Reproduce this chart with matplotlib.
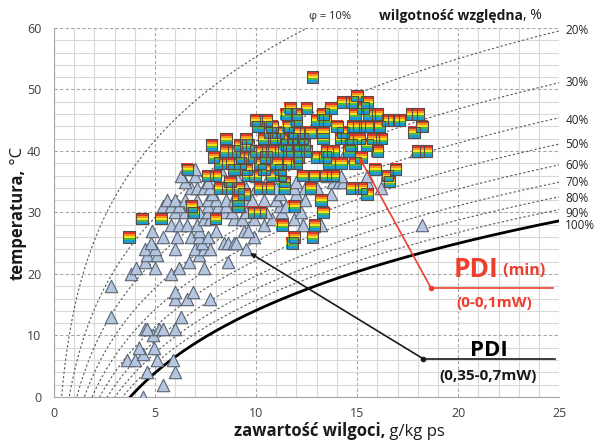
import numpy as np
import matplotlib
matplotlib.use('Agg')
import matplotlib.pyplot as plt
from matplotlib.path import Path

plt.rcParams['font.family'] = ['Open Sans', 'DejaVu Sans']

# relative humidity levels of the psychrometric lines
rh_levels = [10, 20, 30, 40, 50, 60, 70, 80, 90, 100]
# temperature at which each label sits on the right-hand side
rh_label_t = [None, 59.5, 51.1, 45.0, 41.0, 37.6, 34.8, 32.2, 29.9, 27.8]

# measurements with PDI (min) 0-0.1 mW : (moisture g/kg, temperature C)
sq_x = [12.8,
        15.0,
        14.3, 14.75, 15.5,
        11.7, 12.5, 13.7, 15.3,
        11.5, 12.0, 13.3, 14.9, 15.6, 16.0, 17.7, 18.0,
        10.0, 10.5, 12.0, 13.0, 13.4, 16.5, 16.8, 17.1,
        10.1, 10.8, 11.6, 14.0, 14.8, 15.1, 15.5, 16.1, 18.2,
        10.7, 11.1, 11.9, 12.1, 12.7, 13.3, 14.3, 17.8,
        8.5, 9.5, 10.4, 10.9, 11.3, 11.8, 12.3, 13.3, 14.2, 14.5, 15.1, 15.8, 16.2,
        7.8, 9.2, 9.6, 11.5, 12.1, 12.4, 14.7, 15.5,
        8.5, 8.9, 10.0, 10.3, 10.8, 11.2, 11.6, 12.1, 12.5, 13.5, 13.8, 14.6, 16.0, 18.0, 18.4,
        7.9, 9.3, 9.7, 10.5, 12.1, 13.0, 13.4, 15.2,
        8.2, 8.6, 9.2, 10.2, 11.0, 11.6, 12.0, 13.6, 14.2, 14.9,
        6.6, 8.9, 9.5, 10.4, 11.2, 15.9, 16.9,
        7.6, 8.0, 9.6, 9.95, 10.8, 11.2, 12.3, 12.9, 13.4, 13.8, 16.5,
        8.7, 11.4, 16.6,
        8.2, 8.6, 9.1, 10.2, 10.6, 11.4, 12.7, 14.75, 15.2,
        9.4, 15.5,
        9.1, 13.2,
        6.8, 9.1, 11.9,
        6.9, 9.9, 10.2, 13.3,
        4.35, 5.3, 8.0,
        11.3, 12.9,
        3.7, 11.9, 12.8,
        11.8]
sq_t = [52,
        49,
        48, 48, 48,
        47, 47, 47, 47,
        46, 46, 46, 46, 46, 46, 46, 46,
        45, 45, 45, 45, 45, 45, 45, 45,
        44, 44, 44, 44, 44, 44, 44, 44, 44,
        43, 43, 43, 43, 43, 43, 43, 43,
        42, 42, 42, 42, 42, 42, 42, 42, 42, 42, 42, 42, 42,
        41, 41, 41, 41, 41, 41, 41, 41,
        40, 40, 40, 40, 40, 40, 40, 40, 40, 40, 40, 40, 40, 40, 40,
        39, 39, 39, 39, 39, 39, 39, 39,
        38, 38, 38, 38, 38, 38, 38, 38, 38, 38,
        37, 37, 37, 37, 37, 37, 37,
        36, 36, 36, 36, 36, 36, 36, 36, 36, 36, 36,
        35, 35, 35,
        34, 34, 34, 34, 34, 34, 34, 34, 34,
        33, 33,
        32, 32,
        31, 31, 31,
        30, 30, 30, 30,
        29, 29, 29,
        28, 28,
        26, 26, 26,
        25]

# measurements with PDI 0.35-0.7 mW
tr_x = [4.4, 5.4, 4.6, 6.0, 3.6, 4.0, 5.1, 5.9, 4.4, 4.2, 4.95, 4.9,
        4.5, 4.6, 5.2, 5.4, 6.0, 2.8, 6.3, 6.0, 6.6, 7.7, 6.0, 6.9,
        2.8, 3.8, 5.8, 4.06, 5.0, 6.2, 7.4, 4.5, 6.7, 8.6,
        4.6, 5.1, 7.2, 4.5, 5.0, 6.0, 7.0, 7.4, 7.7, 9.5,
        4.8, 7.3, 8.4, 8.6, 8.9, 9.0,
        5.4, 6.1, 6.8, 7.2, 7.6, 9.9,
        4.85, 7.2, 8.0, 9.4, 9.6,
        5.8, 6.2, 6.6, 7.1, 10.4, 12.3, 13.2, 18.2,
        7.4, 7.7, 8.9, 9.3, 9.9, 10.8, 11.9,
        6.0, 6.5, 7.2, 7.6, 8.4, 8.8, 9.5, 10.5, 11.3, 12.2,
        5.4, 5.8, 6.2, 7.6, 8.1, 8.5, 9.2, 11.2, 11.5,
        5.6, 6.0, 6.5, 7.1, 7.6, 8.0, 8.5, 8.9, 9.4, 9.8, 10.4, 11.0, 12.4,
        7.8, 9.0, 11.2, 12.0, 13.7,
        6.8, 7.1, 7.4, 7.7, 9.5, 10.0, 11.0, 11.9, 12.4, 13.0, 16.2,
        6.5, 7.6, 8.1, 8.5, 8.7, 10.5, 11.5, 12.0, 13.8, 14.1, 14.3, 15.5,
        6.3, 7.0, 9.0, 10.0, 12.7, 13.5, 14.2, 15.5,
        7.0, 8.2, 9.3,
        14.3, 17.9, 12.8]
tr_t = [0, 2, 4, 4, 6, 6, 6, 6, 7, 8, 8, 10,
        11, 11, 11, 11, 11, 13, 13, 16, 16, 16, 17, 17,
        18, 20, 20, 21, 21, 21, 21, 22, 22, 22,
        23, 23, 23, 24, 24, 24, 24, 24, 24, 24,
        25, 25, 25, 25, 25, 25,
        26, 26, 26, 26, 26, 26,
        27, 27, 27, 27, 27,
        28, 28, 28, 28, 28, 28, 28, 28,
        29, 29, 29, 29, 29, 29, 29,
        30, 30, 30, 30, 30, 30, 30, 30, 30, 30,
        31, 31, 31, 31, 31, 31, 31, 31, 31,
        32, 32, 32, 32, 32, 32, 32, 32, 32, 32, 32, 32, 32,
        33, 33, 33, 33, 33,
        34, 34, 34, 34, 34, 34, 34, 34, 34, 34, 34,
        35, 35, 35, 35, 35, 35, 35, 35, 35, 35, 35, 35,
        36, 36, 36, 36, 36, 36, 36, 36,
        37, 37, 37,
        39, 40, 44]

# saturation pressure (Magnus) and moisture content at normal pressure
t = np.linspace(-2, 62, 300)
ps = 0.61094 * np.exp(17.625 * t / (t + 243.04))

fig = plt.figure(figsize=(6, 4.43), dpi=100)
ax = fig.add_axes([0.09, 0.104, 0.842, 0.833])
ax.set_xlim(0, 25)
ax.set_ylim(0, 60)

ax.set_xticks(np.arange(0, 26, 5))
ax.set_yticks(np.arange(0, 61, 10))
ax.set_xticks(np.arange(0, 26, 1), minor=True)
ax.set_yticks(np.arange(0, 61, 2), minor=True)
ax.grid(which='minor', color='#d9d9d9', lw=0.8, ls='-')
ax.grid(which='major', color='#a6a6a6', lw=0.8, ls=(0, (3, 2)))
ax.set_axisbelow(True)
ax.tick_params(which='both', length=0, labelsize=9, labelcolor='#404040')
ax.tick_params(axis='y', pad=9)
ax.tick_params(axis='x', pad=7)
for s in ['top', 'right']:
    ax.spines[s].set_visible(False)
for s in ['left', 'bottom']:
    ax.spines[s].set_color('#a6a6a6')

for rh, lt in zip(rh_levels, rh_label_t):
    phi = rh / 100.0
    x = 622 * phi * ps / (101.325 - phi * ps)
    if rh == 100:
        ax.plot(x, t, color='black', lw=2, zorder=2)
    else:
        ax.plot(x, t, color='#555555', lw=0.8, ls=(0, (2, 2)), zorder=2)
    if lt is not None:
        ax.text(25.3, lt, '%d%%' % rh, fontsize=8.5, color='#262626',
                va='center', ha='left', clip_on=False)

ax.text(12.6, 61.8, 'φ = 10%', fontsize=8, color='#262626', va='center', ha='left')
t1 = ax.text(16.1, 61.9, 'wilgotność względna', fontsize=10, fontweight='bold',
             color='#1a1a1a', va='center', ha='left')
ax.annotate(', %', xy=(1, 0), xycoords=t1, fontsize=10, color='#1a1a1a',
            va='bottom', ha='left')

# triangles
ax.scatter(tr_x, tr_t, marker='^', s=80, facecolor='#b4c6e0', edgecolor='#5b6372',
           linewidths=0.8, zorder=3)

# rainbow squares built from horizontal stripes
stripe_cols = ['#e8342c', '#f7921e', '#f6e21c', '#4db848', '#1d9bd7']
edges = np.linspace(1, -1, len(stripe_cols) + 1)
for i, c in enumerate(stripe_cols):
    y0, y1 = edges[i + 1], edges[i]
    p = Path([(-1, y0), (1, y0), (1, y1), (-1, y1), (-1, y0)],
             [Path.MOVETO, Path.LINETO, Path.LINETO, Path.LINETO, Path.CLOSEPOLY])
    ax.scatter(sq_x, sq_t, marker=p, s=70, color=c, linewidths=0, zorder=4)
ax.scatter(sq_x, sq_t, marker='s', s=70, facecolor='none', edgecolor='#5a4c44',
           linewidths=0.8, zorder=5)

# PDI (min) pointer
red = '#ee3e2d'
ax.annotate('', xy=(15.1, 39.0), xytext=(18.66, 17.7),
            arrowprops=dict(arrowstyle='-|>', color=red, lw=1.2, mutation_scale=7,
                            shrinkA=0, shrinkB=0), zorder=6)
ax.plot([18.66, 24.7], [17.7, 17.7], color=red, lw=1.2, zorder=6)
ax.plot([18.66], [17.7], 'o', color=red, ms=3, zorder=6)
p1 = ax.text(19.8, 18.6, 'PDI', fontsize=19, fontweight='bold', color=red,
             va='bottom', ha='left')
ax.annotate(' (min)', xy=(1, 0.12), xycoords=p1, fontsize=11.5, fontweight='bold',
            color=red, va='bottom', ha='left')
ax.text(21.8, 15.3, '(0-0,1mW)', fontsize=11, fontweight='bold', color=red,
        va='center', ha='center')

# PDI pointer
ax.annotate('', xy=(9.7, 23.4), xytext=(18.27, 6.2),
            arrowprops=dict(arrowstyle='-|>', color='#1a1a1a', lw=1.2, mutation_scale=7,
                            shrinkA=0, shrinkB=0), zorder=6)
ax.plot([18.27, 24.8], [6.2, 6.2], color='#1a1a1a', lw=1.2, zorder=6)
ax.plot([18.27], [6.2], 'o', color='#1a1a1a', ms=3, zorder=6)
ax.text(21.5, 6.6, 'PDI', fontsize=16, fontweight='bold', color='black',
        va='baseline', ha='center')
ax.text(21.5, 3.4, '(0,35-0,7mW)', fontsize=11, fontweight='bold', color='#1a1a1a',
        va='center', ha='center')

# axis labels with bold descriptions and regular units
xl = ax.text(8.9, -5.6, 'zawartość wilgoci,', fontsize=12, fontweight='bold',
             color='#1a1a1a', va='center', ha='left', clip_on=False)
ax.annotate(' g/kg ps', xy=(1, 0), xycoords=xl, fontsize=12, color='#1a1a1a',
            va='bottom', ha='left')
yl = ax.text(-1.8, 19.0, 'temperatura,', fontsize=12, fontweight='bold',
             color='#1a1a1a', va='bottom', ha='center', rotation=90, clip_on=False)
ax.annotate(' °C', xy=(0.5, 1), xycoords=yl, fontsize=12, color='#1a1a1a',
            va='bottom', ha='center', rotation=90)

fig.savefig('out.png', dpi=100)
